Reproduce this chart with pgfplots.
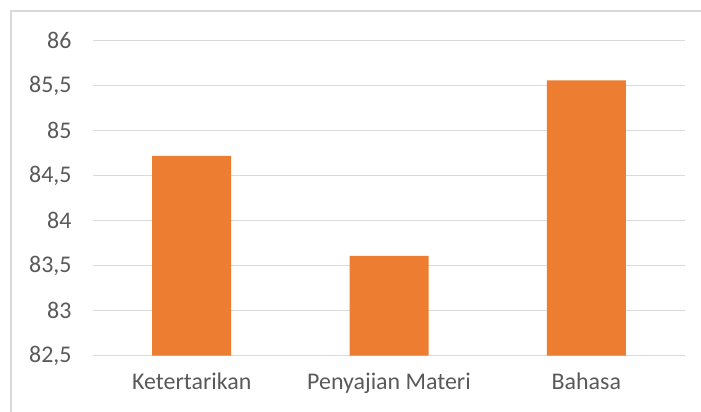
\documentclass[border=0pt]{standalone}
\usepackage{fontspec}
\setmainfont{Carlito}
\usepackage{pgfplots}
\pgfplotsset{compat=1.18}
\definecolor{barorange}{HTML}{ED7D31}
\definecolor{gridgray}{HTML}{D9D9D9}
\definecolor{textgray}{HTML}{595959}
\begin{document}
\begin{tikzpicture}
\useasboundingbox (0,0) rectangle (701bp,412bp);
\draw[gridgray, line width=1.3bp] (11bp,-2bp) -- (11bp,401bp) -- (703bp,401bp);
\begin{axis}[
  at={(93bp,56.3bp)}, anchor=south west,
  scale only axis, width=592bp, height=315bp,
  xmin=-0.5, xmax=2.5, ymin=82.5, ymax=86,
  ytick={82.5,83,83.5,84,84.5,85,85.5,86},
  xtick={0,1,2},
  xticklabels={Ketertarikan,Penyajian Materi,Bahasa},
  /pgf/number format/assume math mode=true,
  /pgf/number format/use comma,
  /pgf/number format/1000 sep={},
  ticklabel style={font=\fontsize{24}{28}\selectfont, text=textgray},
  yticklabel style={xshift=-18bp},
  xticklabel style={yshift=-14bp},
  major tick length=0pt,
  axis line style={draw=none},
  ymajorgrids, grid style={gridgray, line width=1.1bp},
  ybar, bar width=79bp, bar shift=0pt,
]
\addplot[fill=barorange, draw=none] coordinates {(0,84.72) (1,83.61) (2,85.56)};
\end{axis}
\end{tikzpicture}
\end{document}
